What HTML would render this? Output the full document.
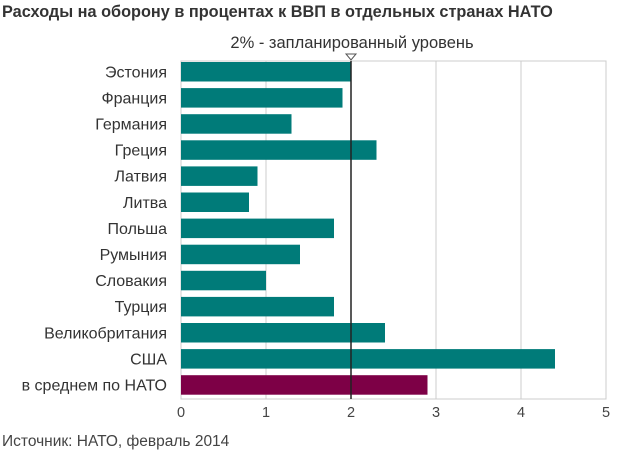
<!DOCTYPE html>
<html><head><meta charset="utf-8"><style>
body{margin:0;background:#fff;}
svg text{font-family:"Liberation Sans",Arial,sans-serif;}
</style></head><body>
<svg id="c" width="640" height="455" xmlns="http://www.w3.org/2000/svg">
<text x="2" y="17" font-size="16.3" font-weight="bold" fill="#333">Расходы на оборону в процентах к ВВП в отдельных странах НАТО</text>
<text x="352" y="48" font-size="16.5" fill="#333" text-anchor="middle">2% - запланированный уровень</text>
<text x="2" y="446" font-size="15.5" fill="#444">Источник: НАТО, февраль 2014</text>
<g id="plot"></g>
</svg>
<script>
const categories=["Эстония","Франция","Германия","Греция","Латвия","Литва","Польша","Румыния","Словакия","Турция","Великобритания","США","в среднем по НАТО"];
const values=[2.0,1.9,1.3,2.3,0.9,0.8,1.8,1.4,1.0,1.8,2.4,4.4,2.9];
const ticks=[0,1,2,3,4,5];
const target=2;
const NS="http://www.w3.org/2000/svg";
const g=document.getElementById('plot');
const X0=181,X1=606,TOP=61,BOT=399,STEP=26.1,BH=19.5;
const xs=v=>X0+(X1-X0)*v/5;
const yb=i=>TOP+1+i*STEP;
function mk(t,a){const e=document.createElementNS(NS,t);for(const k in a)e.setAttribute(k,a[k]);g.appendChild(e);return e;}
let e=mk('rect',{x:X0,y:TOP,width:X1-X0,height:BOT-TOP,fill:'#fff',stroke:'#ccc'});


ticks.forEach(t=>{
 let l=mk('line',{x1:xs(t),x2:xs(t),y1:TOP,y2:BOT,stroke:'#ccc'});
 
 
 let tx=mk('text',{x:xs(t),y:BOT+18,'font-size':14.5,fill:'#444','text-anchor':'middle'});
 tx.textContent=t;
 
 
});
values.forEach((v,i)=>{
 const last=i===values.length-1;
 let r=mk('rect',{x:X0,y:yb(i),width:xs(v)-X0,height:BH,fill:last?'#7d0046':'#007b79'});
 
 
 let tx=mk('text',{x:167,y:yb(i)+BH/2+5.5,'font-size':16,fill:'#333','text-anchor':'end'});
 tx.textContent=categories[i];
 
 
});
let tl=mk('line',{x1:xs(target),x2:xs(target),y1:TOP,y2:BOT,stroke:'#222','stroke-width':1.5});


let tri=mk('polygon',{points:`${xs(target)-5},${TOP-7} ${xs(target)+5},${TOP-7} ${xs(target)},${TOP-1}`,fill:'#fff',stroke:'#555'});


</script>
</body></html>
